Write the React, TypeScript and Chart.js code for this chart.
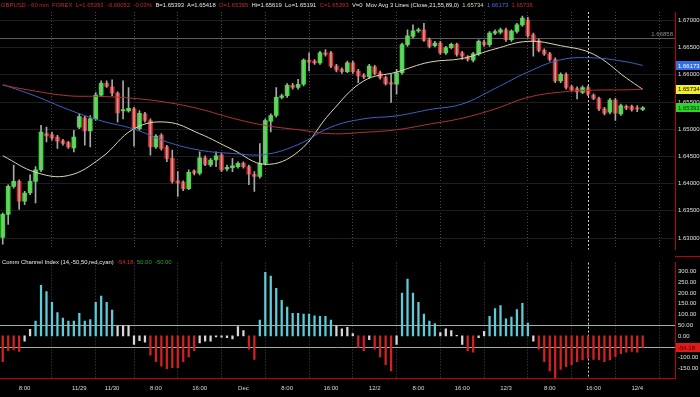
import React, { useEffect, useRef } from 'react';
import { Chart, registerables } from 'chart.js';
Chart.register(...registerables);

const FONT = "'Liberation Sans', Arial, sans-serif";

// ---- candle data (60 min GBPUSD) ----
const opens = [1.63009,1.63434,1.63949,1.64040,1.63676,1.63828,1.64040,1.64252,1.64918,1.64900,1.64858,1.64785,1.64755,1.64658,1.65040,1.65209,1.64967,1.65191,1.65627,1.65846,1.65779,1.65664,1.65336,1.65336,1.65373,1.65009,1.65282,1.65161,1.64676,1.64888,1.64676,1.64464,1.64052,1.64027,1.63906,1.64234,1.64191,1.64476,1.64343,1.64434,1.64524,1.64270,1.64294,1.64312,1.64373,1.64312,1.64173,1.64131,1.64373,1.65149,1.65252,1.65585,1.65615,1.65809,1.65767,1.65827,1.66270,1.66252,1.66221,1.66403,1.66403,1.66161,1.66100,1.66058,1.66221,1.66070,1.65991,1.65967,1.66148,1.66039,1.65949,1.65858,1.65827,1.66039,1.66554,1.66706,1.66809,1.66827,1.66645,1.66536,1.66585,1.66403,1.66500,1.66561,1.66403,1.66330,1.66270,1.66385,1.66603,1.66554,1.66767,1.66785,1.66827,1.66645,1.66797,1.66918,1.67009,1.66736,1.66627,1.66451,1.66385,1.66282,1.65888,1.66009,1.65779,1.65749,1.65676,1.65767,1.65627,1.65567,1.65373,1.65312,1.65536,1.65282,1.65421,1.65421,1.65385,1.65365];
const highs = [1.63464,1.63979,1.64343,1.64070,1.63858,1.64161,1.64312,1.65070,1.65040,1.64949,1.64888,1.64815,1.64779,1.64979,1.65282,1.65239,1.65252,1.65676,1.65888,1.65888,1.65906,1.65688,1.65888,1.65767,1.65403,1.65343,1.65312,1.65191,1.64900,1.64918,1.64706,1.64615,1.64221,1.64052,1.64252,1.64252,1.64585,1.64512,1.64464,1.64585,1.64555,1.64343,1.64464,1.64403,1.64403,1.64343,1.64221,1.64737,1.65191,1.65282,1.65767,1.65646,1.65839,1.65846,1.65918,1.66294,1.66403,1.66282,1.66433,1.66464,1.66433,1.66191,1.66130,1.66252,1.66252,1.66100,1.66021,1.66191,1.66173,1.66070,1.65979,1.66009,1.66100,1.66585,1.66827,1.66918,1.66858,1.66948,1.66676,1.66615,1.66615,1.66524,1.66585,1.66585,1.66433,1.66355,1.66415,1.66645,1.66633,1.66797,1.66827,1.66858,1.66858,1.66827,1.66948,1.67082,1.67057,1.66767,1.66658,1.66476,1.66415,1.66312,1.66039,1.66039,1.65809,1.65779,1.65797,1.65797,1.65652,1.65591,1.65403,1.65567,1.65567,1.65464,1.65445,1.65445,1.65433,1.65418];
const lows = [1.62888,1.63252,1.63918,1.63525,1.63615,1.63797,1.63646,1.64221,1.64767,1.64797,1.64646,1.64706,1.64646,1.64585,1.65009,1.64706,1.64676,1.65161,1.65603,1.65767,1.65615,1.65130,1.65191,1.65312,1.64688,1.64979,1.65130,1.64524,1.64646,1.64615,1.64403,1.64009,1.63767,1.63870,1.63888,1.64161,1.64161,1.64331,1.64312,1.64312,1.64221,1.64234,1.64221,1.64282,1.64282,1.63979,1.63858,1.64100,1.64343,1.64949,1.65221,1.65555,1.65585,1.65736,1.65736,1.65797,1.66070,1.66191,1.66191,1.66342,1.66130,1.66052,1.66027,1.66039,1.66027,1.65858,1.65930,1.65936,1.65997,1.65918,1.65809,1.65494,1.65645,1.66009,1.66524,1.66676,1.66779,1.66615,1.66494,1.66512,1.66373,1.66373,1.66476,1.66342,1.66282,1.66252,1.66239,1.66355,1.66524,1.66524,1.66736,1.66754,1.66615,1.66615,1.66767,1.66888,1.66688,1.66342,1.66421,1.66355,1.66252,1.65858,1.65858,1.65736,1.65700,1.65555,1.65652,1.65615,1.65542,1.65343,1.65264,1.65282,1.65161,1.65252,1.65361,1.65330,1.65325,1.65340];
const closes = [1.63434,1.63949,1.64040,1.63676,1.63828,1.64040,1.64252,1.64949,1.64876,1.64840,1.64779,1.64737,1.64676,1.64858,1.65233,1.64967,1.65191,1.65627,1.65846,1.65785,1.65664,1.65300,1.65361,1.65385,1.65009,1.65294,1.65161,1.64676,1.64876,1.64646,1.64464,1.64040,1.64009,1.63906,1.64209,1.64191,1.64476,1.64355,1.64434,1.64512,1.64252,1.64300,1.64325,1.64373,1.64312,1.64173,1.64131,1.64373,1.65161,1.65252,1.65585,1.65615,1.65809,1.65767,1.65827,1.66270,1.66233,1.66221,1.66403,1.66373,1.66161,1.66088,1.66058,1.66221,1.66058,1.65979,1.65961,1.66161,1.66027,1.65949,1.65839,1.65827,1.66039,1.66554,1.66718,1.66809,1.66827,1.66633,1.66524,1.66585,1.66403,1.66500,1.66561,1.66373,1.66342,1.66282,1.66385,1.66615,1.66554,1.66767,1.66797,1.66827,1.66645,1.66803,1.66918,1.67045,1.66718,1.66615,1.66451,1.66385,1.66282,1.65888,1.66009,1.65767,1.65724,1.65688,1.65767,1.65645,1.65567,1.65373,1.65294,1.65536,1.65294,1.65433,1.65385,1.65361,1.65373,1.65393];

// ---- moving averages, read at sampled candle indices ----
const maIdx = [0,6,12,18,24,30,36,42,48,54,60,66,72,78,84,90,96,102,108,114,117];
const ma21 = [1.64512,1.64209,1.64149,1.64476,1.65009,1.65130,1.64918,1.64627,1.64355,1.64585,1.65312,1.65888,1.66051,1.66233,1.66300,1.66476,1.66615,1.66536,1.66379,1.65942,1.65734];
const ma55 = [1.65821,1.65609,1.65361,1.65155,1.65003,1.64767,1.64615,1.64555,1.64537,1.64718,1.65040,1.65191,1.65246,1.65361,1.65464,1.65749,1.66051,1.66276,1.66312,1.66239,1.66173];
const ma89 = [1.65809,1.65700,1.65615,1.65603,1.65567,1.65494,1.65373,1.65203,1.65070,1.64991,1.64918,1.64943,1.64991,1.65094,1.65203,1.65373,1.65585,1.65682,1.65718,1.65724,1.65736];

// ---- CCI(14) ----
const cci = [-120,-69,-65,-72,-25,30,69,235,206,156,108,83,69,69,105,69,76,156,185,156,120,45,47,47,-40,-23,-29,-90,-120,-141,-153,-148,-148,-120,-98,-69,-33,-25,-25,-5,-6,-9,-14,43,25,-62,-110,73,296,279,221,166,134,105,105,102,102,93,91,91,73,47,33,40,10,-54,-69,-18,-62,-98,-134,-163,-40,199,264,199,156,102,69,57,15,33,25,3,-40,-69,-76,-8,21,91,127,141,79,88,122,151,59,-25,-62,-120,-163,-200,-156,-144,-134,-120,-112,-105,-110,-112,-120,-112,-98,-83,-76,-72,-76,-54.18];
const cciLevels = [50, -50];

// ---- axes ----
const timeTickIdx = [4,14,20,28,36,44,52,60,68,76,84,92,100,108,116];
const timeTickText = ['8:00','11/29','11/30','8:00','16:00','Dec','8:00','16:00','12/2','8:00','16:00','12/3','8:00','16:00','12/4'];
const priceTicks = [1.63,1.635,1.64,1.645,1.65,1.655,1.66,1.665,1.67];
const cciTicks = [-150,-100,-50,0,50,100,150,200,250,300];
const priceMin = 1.62791, priceMax = 1.67155;
const cciMin = -196.4, cciMax = 341.3;
const xMin = -0.5, xMax = 122.9;
const markerIdx = 107;
const refLineValue = 1.66682;
const refLineLabel = '1.66858';

const mainTags = [
  { v: 1.66173, text: '1.66173', bg: '#2f6fe0', fg: '#ffffff' },
  { v: 1.65734, text: '1.65734', bg: '#f2ee2a', fg: '#000000' },
  { v: 1.65393, text: '1.65393', bg: '#2ed42e', fg: '#003000' },
];
const cciTags = [{ v: -54.18, text: '-54.18', bg: '#e01a1a', fg: '#300000' }];

const RED = '#e82222', GREEN = '#22ee22';
const HRED = '#c42c2c', HWHITE = '#e8e8e8';
const headerParts = [
  { t: 'GBPUSD - 60 min  FOREX  L=1.65393  -0.00052  -0.03%', c: HRED },
  { t: '  B=1.65393  A=1.65418', c: HWHITE },
  { t: '  O=1.65365', c: HRED },
  { t: '  Hi=1.65619  Lo=1.65191', c: HWHITE },
  { t: '  C=1.65393', c: HRED },
  { t: '  V=0  Mov Avg 3 Lines (Close,21,55,89,0)', c: HWHITE },
  { t: '  1.65734', c: '#d8d4a8' },
  { t: '  1.66173', c: '#3f6fe8' },
  { t: '  1.65736', c: '#c42c2c' },
];
const cciParts = [
  { t: 'Comm Channel Index (14,-50,50,red,cyan)', c: HWHITE },
  { t: '  -54.18', c: '#d42828' },
  { t: '  50.00', c: '#2aa82a' },
  { t: '  -50.00', c: '#2aa82a' },
];

function xAxis(showLabels: boolean) {
  return {
    type: 'linear' as const,
    min: xMin,
    max: xMax,
    offset: false,
    afterBuildTicks: (s: any) => { s.ticks = timeTickIdx.map((v) => ({ value: v })); },
    afterFit: (s: any) => { s.height = showLabels ? 19 : 0; },
    ticks: {
      display: showLabels,
      autoSkip: false,
      maxRotation: 0,
      padding: 7,
      color: '#d8d8d8',
      font: { size: 6, family: FONT },
      callback: (_v: any, i: number) => timeTickText[i],
    },
    grid: { color: '#4a4a4a', drawTicks: false, lineWidth: 1 },
    border: { display: showLabels, color: '#c00000', width: 1, dash: [1, 2] },
  };
}

function drawTags(chart: any, tags: any[]) {
  const { ctx, chartArea: a, scales } = chart;
  const y = scales.y;
  ctx.save();
  ctx.font = `6px ${FONT}`;
  ctx.textBaseline = 'middle';
  ctx.textAlign = 'left';
  for (const t of tags) {
    const py = y.getPixelForValue(t.v);
    ctx.fillStyle = t.bg;
    ctx.fillRect(a.right + 1, Math.round(py - 4.5), chart.width - a.right - 1, 9);
    ctx.fillStyle = t.fg;
    ctx.fillText(t.text, a.right + 3, py + 0.5);
  }
  ctx.restore();
}

function drawMarker(chart: any) {
  const { ctx, chartArea: a, scales } = chart;
  const mx = Math.round(scales.x.getPixelForValue(markerIdx)) + 0.5;
  ctx.save();
  ctx.strokeStyle = '#d0d0d0';
  ctx.lineWidth = 1;
  ctx.setLineDash([2, 2]);
  ctx.beginPath();
  ctx.moveTo(mx, a.top);
  ctx.lineTo(mx, a.bottom);
  ctx.stroke();
  ctx.restore();
}

export default function App() {
  const mainRef = useRef<HTMLCanvasElement>(null);
  const cciRef = useRef<HTMLCanvasElement>(null);

  useEffect(() => {
    document.body.style.margin = '0';
    document.body.style.background = '#000';

    const bodyColors = closes.map((c, i) => (c >= opens[i] ? GREEN : RED));
    const mainOverlay = {
      id: 'mainOverlay',
      beforeDatasetsDraw(chart: any) {
        const { ctx, chartArea: a, scales } = chart;
        const yy = Math.round(scales.y.getPixelForValue(refLineValue)) + 0.5;
        ctx.save();
        ctx.strokeStyle = '#5c5c5c';
        ctx.lineWidth = 1;
        ctx.beginPath();
        ctx.moveTo(a.left, yy);
        ctx.lineTo(a.right, yy);
        ctx.stroke();
        ctx.fillStyle = '#8c8c8c';
        ctx.font = `6px ${FONT}`;
        ctx.textAlign = 'right';
        ctx.textBaseline = 'bottom';
        ctx.fillText(refLineLabel, a.right - 2, yy - 1);
        ctx.restore();
        drawMarker(chart);
      },
      afterDraw(chart: any) { drawTags(chart, mainTags); },
    };

    const main = new Chart(mainRef.current!, {
      type: 'bar',
      data: {
        datasets: [
          {
            type: 'line' as const,
            data: maIdx.map((x, i) => ({ x, y: ma89[i] })),
            borderColor: '#b03434', borderWidth: 1, pointRadius: 0, tension: 0.4,
          },
          {
            type: 'line' as const,
            data: maIdx.map((x, i) => ({ x, y: ma55[i] })),
            borderColor: '#3d62c8', borderWidth: 1, pointRadius: 0, tension: 0.4,
          },
          {
            type: 'line' as const,
            data: maIdx.map((x, i) => ({ x, y: ma21[i] })),
            borderColor: '#dcd8b0', borderWidth: 1, pointRadius: 0, tension: 0.4,
          },
          {
            type: 'bar' as const,
            data: lows.map((l, i) => ({ x: i, y: [l, highs[i]] })),
            backgroundColor: '#a8a8a8', barThickness: 1, grouped: false, minBarLength: 1,
          },
          {
            type: 'bar' as const,
            data: opens.map((o, i) => ({ x: i, y: [o, closes[i]] })),
            backgroundColor: bodyColors, barThickness: 4, grouped: false, minBarLength: 1,
          },
        ] as any,
      },
      options: {
        responsive: false,
        animation: false,
        events: [],
        layout: { padding: { top: 12, bottom: 4, left: 0, right: 0 } },
        plugins: { legend: { display: false }, tooltip: { enabled: false } },
        scales: {
          x: xAxis(false) as any,
          y: {
            type: 'linear',
            position: 'right',
            min: priceMin,
            max: priceMax,
            afterBuildTicks: (s: any) => { s.ticks = priceTicks.map((v) => ({ value: v })); },
            afterFit: (s: any) => { s.width = 25; },
            ticks: {
              padding: 3,
              color: '#e0e0e0',
              font: { size: 6, family: FONT },
              callback: (v: any) => Number(v).toFixed(5),
            },
            grid: { color: '#1e1e1e', drawTicks: false },
            border: { display: true, color: '#c00000', width: 1 },
          },
        },
      },
      plugins: [mainOverlay],
    });

    const cciOverlay = {
      id: 'cciOverlay',
      beforeDatasetsDraw(chart: any) {
        const { ctx, chartArea: a, scales } = chart;
        ctx.save();
        ctx.strokeStyle = '#9fb09f';
        ctx.lineWidth = 1;
        for (const lv of cciLevels) {
          const yy = Math.round(scales.y.getPixelForValue(lv)) + 0.5;
          ctx.beginPath();
          ctx.moveTo(a.left, yy);
          ctx.lineTo(a.right, yy);
          ctx.stroke();
        }
        ctx.restore();
        drawMarker(chart);
      },
      afterDraw(chart: any) { drawTags(chart, cciTags); },
    };

    const cciColors = cci.map((v) => (v > 50 ? '#5ecbd8' : v < -50 ? '#d42222' : '#d8d8d8'));
    const cciChart = new Chart(cciRef.current!, {
      type: 'bar',
      data: {
        datasets: [
          {
            data: cci.map((v, i) => ({ x: i, y: v })),
            backgroundColor: cciColors, barThickness: 1.6, grouped: false,
          },
        ] as any,
      },
      options: {
        responsive: false,
        animation: false,
        events: [],
        layout: { padding: { top: 1, bottom: 0, left: 0, right: 0 } },
        plugins: { legend: { display: false }, tooltip: { enabled: false } },
        scales: {
          x: xAxis(true) as any,
          y: {
            type: 'linear',
            position: 'right',
            min: cciMin,
            max: cciMax,
            afterBuildTicks: (s: any) => { s.ticks = cciTicks.map((v) => ({ value: v })); },
            afterFit: (s: any) => { s.width = 25; },
            ticks: {
              padding: 3,
              color: '#e0e0e0',
              font: { size: 6, family: FONT },
              callback: (v: any) => Number(v).toFixed(2),
            },
            grid: { display: false, drawTicks: false },
            border: { display: true, color: '#c00000', width: 1 },
          },
        },
      },
      plugins: [cciOverlay],
    });

    return () => { main.destroy(); cciChart.destroy(); };
  }, []);

  const txt: React.CSSProperties = {
    position: 'absolute', fontFamily: FONT, fontSize: '5.9px', lineHeight: '8px',
    whiteSpace: 'pre', margin: 0,
  };

  return (
    <div style={{ position: 'relative', width: 700, height: 397, background: '#000', overflow: 'hidden' }}>
      <canvas ref={mainRef} width={700} height={256} style={{ position: 'absolute', left: 0, top: 0 }} />
      <canvas ref={cciRef} width={700} height={141} style={{ position: 'absolute', left: 0, top: 256 }} />
      <div style={{ position: 'absolute', left: 675, top: 256, width: 25, height: 1, background: '#c00000' }} />
      <div style={{ ...txt, left: 1, top: 1 }}>
        {headerParts.map((p, i) => <span key={i} style={{ color: p.c }}>{p.t}</span>)}
      </div>
      <div style={{ ...txt, left: 2, top: 258 }}>
        {cciParts.map((p, i) => <span key={i} style={{ color: p.c }}>{p.t}</span>)}
      </div>
    </div>
  );
}
